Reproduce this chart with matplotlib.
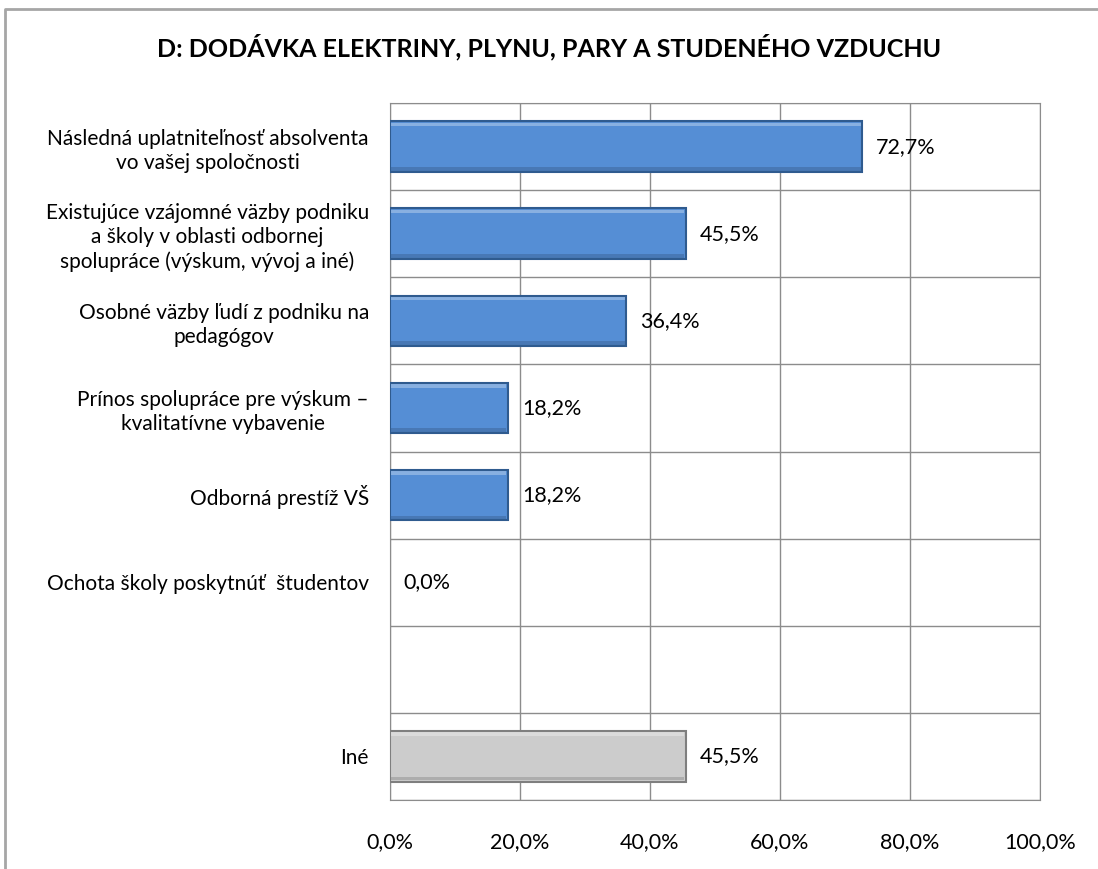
import matplotlib.pyplot as plt
import numpy as np

categories = [
    'Následná uplatniteľnosť absolventa\nvo vašej spoločnosti',
    'Existujúce vzájomné väzby podniku\na školy v oblasti odbornej\nspolupráce (výskum, vývoj a iné)',
    'Osobné väzby ľudí z podniku na\npedagógov',
    'Prínos spolupráce pre výskum –\nkvalitatívne vybavenie',
    'Odborná prestíž VŠ',
    'Ochota školy poskytnúť  študentov',
    '',
    'Iné',
]
values = [72.7, 45.5, 36.4, 18.2, 18.2, 0.0, None, 45.5]
bar_colors = ['#558ed5', '#558ed5', '#558ed5', '#558ed5', '#558ed5', '#558ed5', None, '#cccccc']
edge_colors = ['#2f5b8f', '#2f5b8f', '#2f5b8f', '#2f5b8f', '#2f5b8f', '#2f5b8f', None, '#7f7f7f']
xticks = [0, 20, 40, 60, 80, 100]

plt.rcParams['font.family'] = ['Lato', 'DejaVu Sans']

fig = plt.figure(figsize=(10.98, 8.69), dpi=100)
# outer chart frame (left and top edges visible)
fig.add_artist(plt.Line2D([5 / 1098, 5 / 1098, 1], [0, 1 - 9 / 869, 1 - 9 / 869],
                          transform=fig.transFigure, color='#a6a6a6', linewidth=2))

ax = fig.add_axes([0.355, 0.0794, 0.592, 0.802])
n = len(categories)
ypos = np.arange(n)

for i, v in enumerate(values):
    if v is None:
        continue
    if v > 0:
        ax.barh(i, v, height=0.58, color=bar_colors[i], edgecolor=edge_colors[i],
                linewidth=1.5, zorder=3)
        # soft bevel: light strip on top, shadow strip at the bottom
        ax.barh(i - 0.255, v - 0.5, left=0.25, height=0.04, color='white', alpha=0.3,
                linewidth=0, zorder=4)
        ax.barh(i + 0.255, v - 0.5, left=0.25, height=0.04, color='black', alpha=0.15,
                linewidth=0, zorder=4)
    ax.annotate(f'{v:.1f}%'.replace('.', ','), (v, i), xytext=(10, 0),
                textcoords='offset points', va='center', ha='left', fontsize=15.5,
                zorder=5)

ax.set_xlim(0, 100)
ax.set_ylim(n - 0.5, -0.5)
ax.set_yticks(ypos)
ax.set_yticklabels(categories, fontsize=15, ha='right', multialignment='center',
                   linespacing=1.25)
ax.set_xticks(xticks)
ax.set_xticklabels([f'{t:.1f}%'.replace('.', ',') for t in xticks], fontsize=15.5)
ax.tick_params(axis='both', length=0)
ax.tick_params(axis='y', pad=15)
ax.tick_params(axis='x', pad=23)

for t in xticks:
    ax.axvline(t, color='#8c8c8c', linewidth=1, zorder=1)
for k in range(n + 1):
    ax.axhline(k - 0.5, color='#8c8c8c', linewidth=1, zorder=1)
for s in ax.spines.values():
    s.set_color('#8c8c8c')

fig.text(0.5, 0.946, 'D: DODÁVKA ELEKTRINY, PLYNU, PARY A STUDENÉHO VZDUCHU',
         ha='center', va='center', fontsize=18, fontweight='bold')

fig.savefig('out.png', dpi=100)
